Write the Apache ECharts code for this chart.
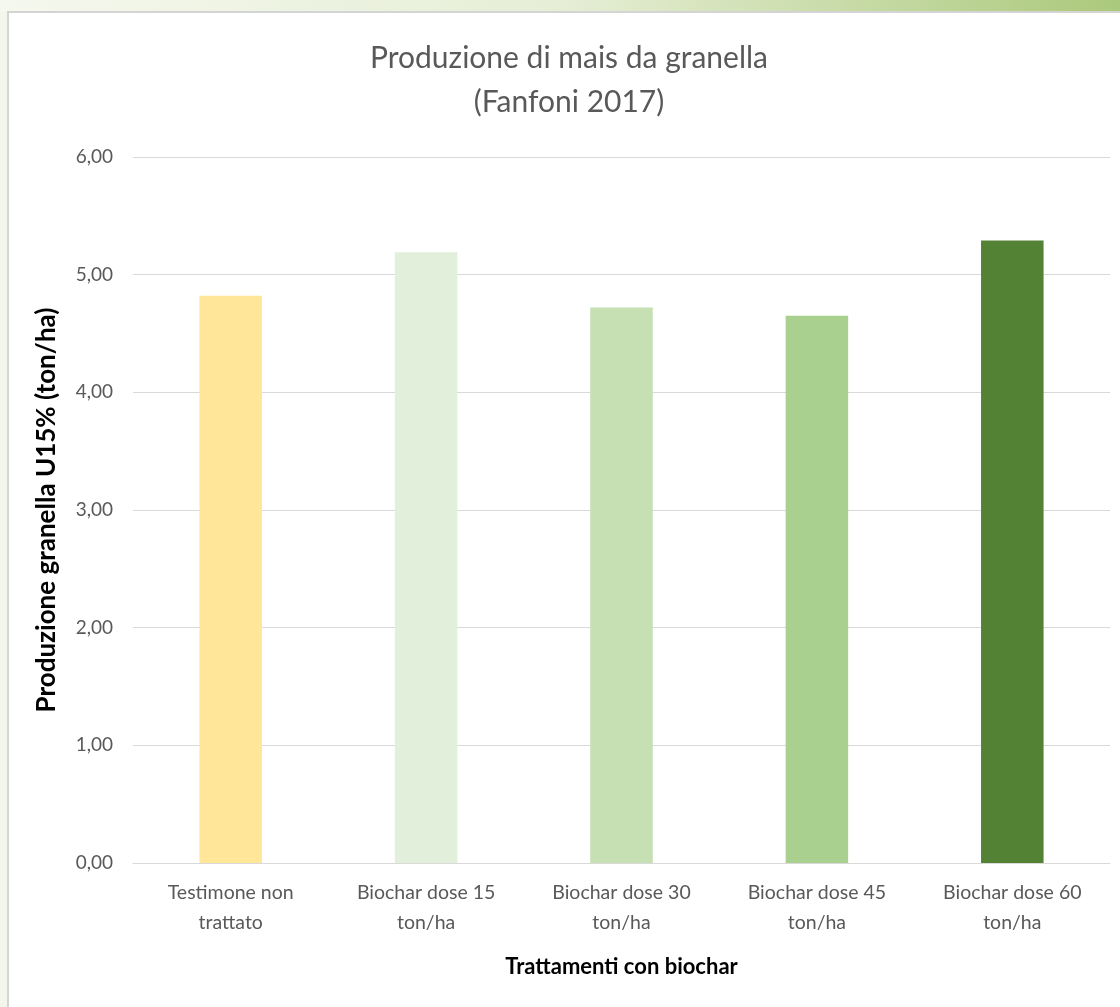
<!DOCTYPE html>
<html>
<head>
<meta charset="utf-8">
<script src="https://cdn.jsdelivr.net/npm/echarts@6/dist/echarts.min.js"></script>
<style>
html,body{margin:0;padding:0;background:#fff;}
#chart{width:1120px;height:1007px;}
</style>
</head>
<body>
<div id="chart"></div>
<script>
var categories = ['Testimone non\ntrattato', 'Biochar dose 15\nton/ha', 'Biochar dose 30\nton/ha', 'Biochar dose 45\nton/ha', 'Biochar dose 60\nton/ha'];
var values = [4.82, 5.19, 4.72, 4.65, 5.29];
var barColors = ['#FFE699', '#E2EFDA', '#C6E0B4', '#A9D08E', '#548235'];
var yTicks = { min: 0, max: 6, interval: 1 };

var FONT = 'Lato';
var chart = echarts.init(document.getElementById('chart'));
chart.setOption({
  animation: false,
  graphic: [
    { type: 'rect', z: -10, shape: { x: 0, y: 0, width: 1120, height: 1007 },
      style: { fill: '#f3f6ea' } },
    { type: 'rect', z: -9, shape: { x: 0, y: 0, width: 1120, height: 12 },
      style: { fill: new echarts.graphic.LinearGradient(0, 0, 1, 0, [
        { offset: 0, color: '#f5f8ee' }, { offset: 0.5, color: '#e6eed6' }, { offset: 1, color: '#abc97b' }]) } },
    { type: 'rect', z: -8, shape: { x: 8, y: 12, width: 1120, height: 1007 },
      style: { fill: '#ffffff', stroke: '#d4d4d4', lineWidth: 2 } }
  ],
  title: {
    text: 'Produzione di mais da granella\n(Fanfoni 2017)',
    left: 564,
    textAlign: 'center',
    top: 31,
    textStyle: { fontFamily: FONT, fontWeight: 'normal', fontSize: 30, color: '#595959', lineHeight: 44 }
  },
  grid: { left: 133, right: 10, top: 157, bottom: 144, containLabel: false },
  xAxis: {
    type: 'category',
    data: categories,
    name: 'Trattamenti con biochar',
    nameLocation: 'middle',
    nameGap: 93,
    nameTextStyle: { fontFamily: FONT, fontWeight: 'bold', fontSize: 22, color: '#000' },
    axisLine: { lineStyle: { color: '#d9d9d9', width: 1 } },
    axisTick: { show: false },
    axisLabel: { fontFamily: FONT, fontSize: 19.5, color: '#595959', lineHeight: 30, margin: 15, interval: 0 }
  },
  yAxis: {
    type: 'value',
    min: yTicks.min, max: yTicks.max, interval: yTicks.interval,
    name: 'Produzione granella U15% (ton/ha)',
    nameLocation: 'middle',
    nameGap: 73,
    nameTextStyle: { fontFamily: FONT, fontWeight: 'bold', fontSize: 26, color: '#000' },
    axisLine: { show: false },
    axisTick: { show: false },
    splitLine: { lineStyle: { color: '#d9d9d9', width: 1 } },
    axisLabel: { fontFamily: FONT, fontSize: 19, color: '#595959', margin: 20,
      formatter: function (v) { return v.toFixed(2).replace('.', ','); } }
  },
  series: [{
    type: 'bar',
    data: values.map(function (v, i) { return { value: v, itemStyle: { color: barColors[i] } }; }),
    barWidth: '32%'
  }]
});
</script>
</body>
</html>
